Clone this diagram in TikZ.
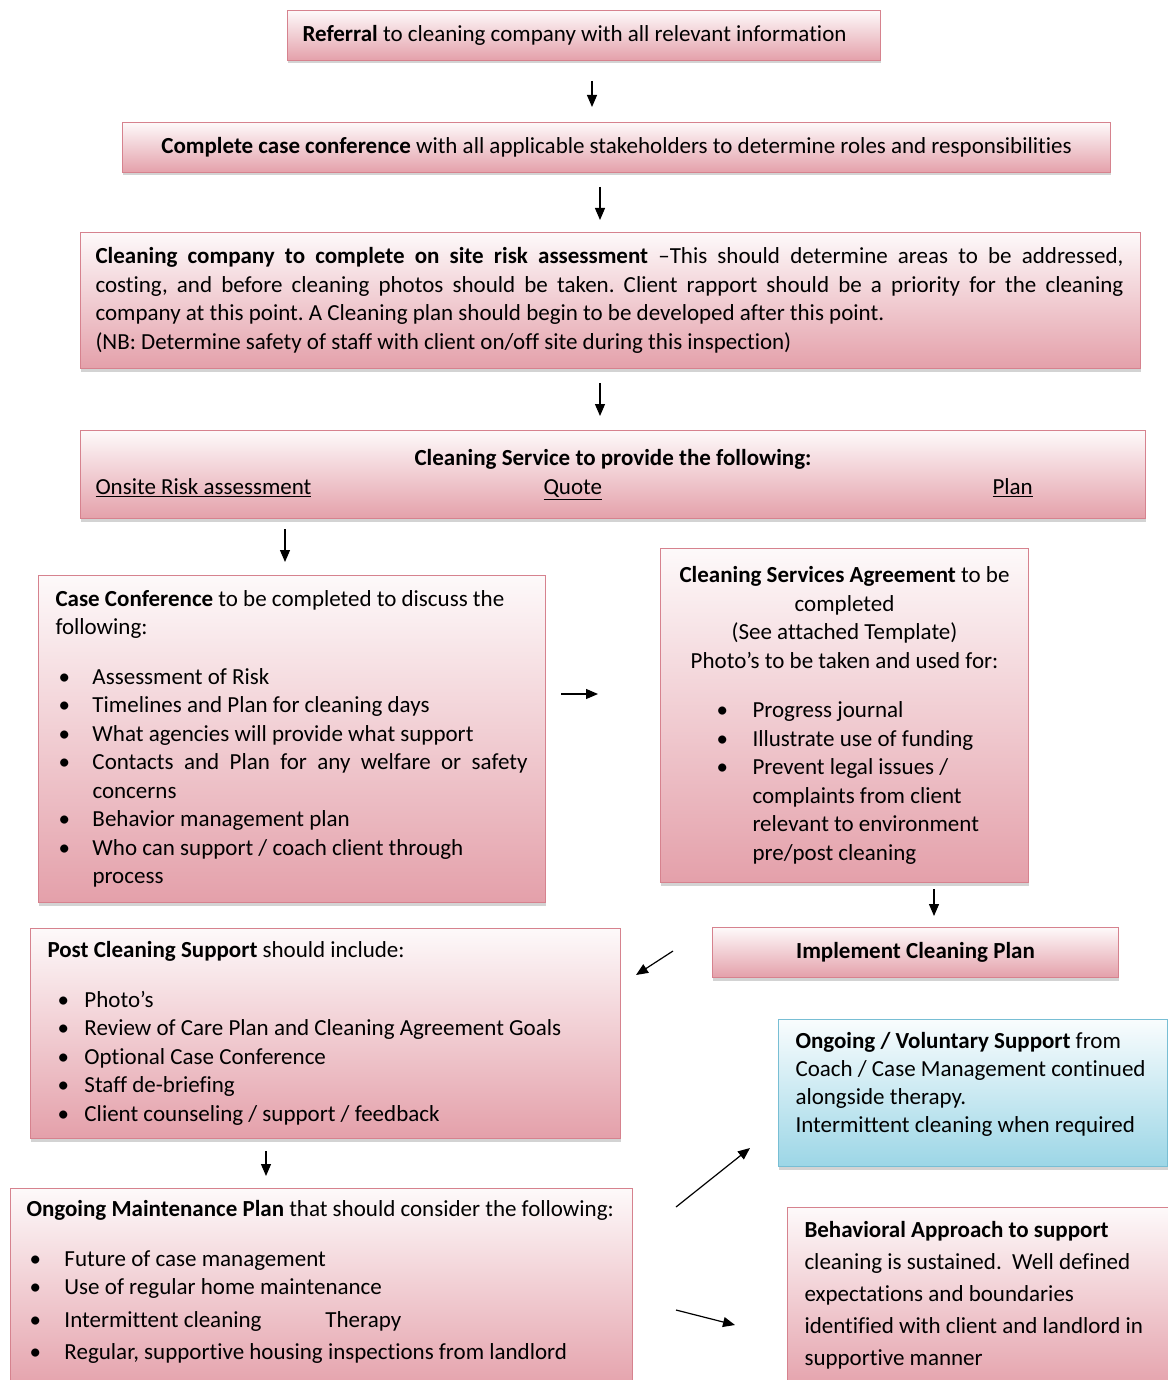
\documentclass[tikz,border=0pt]{standalone}
\usepackage{fontspec}
\setmainfont{Carlito}[Ligatures=NoCommon]
\usetikzlibrary{arrows.meta,positioning,shadows,calc}
\definecolor{flowpink}{RGB}{228,160,170}
\definecolor{flowedge}{RGB}{214,130,142}
\definecolor{flowblue}{RGB}{156,214,230}
\definecolor{flowblueedge}{RGB}{120,190,212}
% bullet: left offset, bullet width, text
\newcommand{\fbul}[3]{\hspace*{#1}\makebox[#2][l]{\textbullet}#3}

\tikzset{
  flowbox/.style={draw=flowedge, line width=1pt, top color=flowpink!6, bottom color=flowpink,
    anchor=north west, inner xsep=15pt, inner ysep=0pt, align=justify,
    drop shadow={shadow xshift=0pt, shadow yshift=-3pt, opacity=0.35},
    font=\fontsize{23}{28.5}\selectfont\frenchspacing},
  bluebox/.style={flowbox, draw=flowblueedge, top color=flowblue!6, bottom color=flowblue},
  flowarrow/.style={-{Triangle[length=12pt,width=10pt]}, line width=1.2pt},
}

\begin{document}
\begin{tikzpicture}[x=1pt, y=-1pt]
  \useasboundingbox (0,0) rectangle (1167,1380);

  %% Top chain
  \node[flowbox, minimum width=593pt, minimum height=50pt, text width=563pt] (referral) at (287,10)
    {\textbf{Referral} to cleaning company with all relevant information};
  \node[flowbox, minimum width=988pt, minimum height=50pt, text width=958pt] (conference) at (122,122)
    {\makebox[958pt]{\textbf{Complete case conference} with all applicable stakeholders to determine roles and responsibilities}};
  \node[flowbox, minimum width=1060pt, minimum height=136pt, text width=1030pt] (riskassess) at (80,232)
    {\makebox[1028pt][s]{\textbf{Cleaning company to complete on site risk assessment} –This should determine areas to be addressed,}\\
     \makebox[1028pt][s]{costing, and before cleaning photos should be taken. Client rapport should be a priority for the cleaning}\\
     company at this point. A Cleaning plan should begin to be developed after this point.\\
     (NB: Determine safety of staff with client on/off site during this inspection)};
  \node[flowbox, minimum width=1065pt, minimum height=88pt, text width=1035pt] (provide) at (80,430)
    {\makebox[1035pt]{\textbf{Cleaning Service to provide the following:}}\\
     \makebox[1035pt][l]{\makebox[448pt][l]{\underline{Onsite Risk assessment}}\makebox[449pt][l]{\underline{Quote}}\underline{Plan}}};

  %% Middle row
  \node[flowbox, minimum width=507pt, minimum height=327pt, inner xsep=17pt, text width=473pt] (caseconf) at (38,575)
    {\textbf{Case Conference} to be completed to discuss the\\
     following:\\[21pt]
     \fbul{3pt}{34pt}{Assessment of Risk}\\
     \fbul{3pt}{34pt}{Timelines and Plan for cleaning days}\\
     \fbul{3pt}{34pt}{What agencies will provide what support}\\
     \fbul{3pt}{34pt}{\makebox[435pt][s]{Contacts and Plan for any welfare or safety}}\\
     \hspace*{37pt}concerns\\
     \fbul{3pt}{34pt}{Behavior management plan}\\
     \fbul{3pt}{34pt}{Who can support / coach client through}\\
     \hspace*{37pt}process};
  \node[flowbox, minimum width=368pt, minimum height=334pt, inner xsep=16pt, text width=336pt] (agreement) at (660,548)
    {\makebox[336pt]{\textbf{Cleaning Services Agreement} to be}\\
     \makebox[336pt]{completed}\\
     \makebox[336pt]{(See attached Template)}\\
     \makebox[336pt]{Photo’s to be taken and used for:}\\[21pt]
     \fbul{40pt}{36pt}{Progress journal}\\
     \fbul{40pt}{36pt}{Illustrate use of funding}\\
     \fbul{40pt}{36pt}{Prevent legal issues /}\\
     \hspace*{76pt}complaints from client\\
     \hspace*{76pt}relevant to environment\\
     \hspace*{76pt}pre/post cleaning};
  \node[flowbox, minimum width=406pt, minimum height=50pt, text width=376pt] (implement) at (712,927)
    {\makebox[376pt]{\textbf{Implement Cleaning Plan}}};

  %% Lower left
  \node[flowbox, minimum width=590pt, minimum height=210pt, inner xsep=17pt, text width=556pt] (postclean) at (30,928)
    {\textbf{Post Cleaning Support} should include:\\[21pt]
     \fbul{10pt}{27pt}{Photo’s}\\
     \fbul{10pt}{27pt}{Review of Care Plan and Cleaning Agreement Goals}\\
     \fbul{10pt}{27pt}{Optional Case Conference}\\
     \fbul{10pt}{27pt}{Staff de-briefing}\\
     \fbul{10pt}{27pt}{Client counseling / support / feedback}};
  \node[flowbox, minimum width=622pt, minimum height=204pt, inner xsep=16pt, text width=590pt] (maintain) at (10,1188)
    {\textbf{Ongoing Maintenance Plan} that should consider the following:\\[21pt]
     \fbul{3pt}{35pt}{Future of case management}\\
     \fbul{3pt}{35pt}{Use of regular home maintenance}\\[4pt]
     \fbul{3pt}{35pt}{\makebox[261pt][l]{Intermittent cleaning}Therapy}\\[4pt]
     \fbul{3pt}{35pt}{Regular, supportive housing inspections from landlord}\rule[-21pt]{0pt}{1pt}};

  %% Lower right
  \node[bluebox, minimum width=389pt, minimum height=147pt, inner xsep=17pt, text width=355pt,
        font=\fontsize{23}{28}\selectfont] (voluntary) at (778,1019)
    {\textbf{Ongoing / Voluntary Support} from\\
     Coach / Case Management continued\\
     alongside therapy.\\
     Intermittent cleaning when required\rule[-22pt]{0pt}{1pt}};
  \node[flowbox, minimum width=385pt, minimum height=185pt, inner xsep=17pt, text width=351pt,
        font=\fontsize{23}{32}\selectfont] (behaviour) at (787,1207)
    {\textbf{Behavioral Approach to support}\\
     cleaning is sustained.\ \ Well defined\\
     expectations and boundaries\\
     identified with client and landlord in\\
     supportive manner\rule[-13pt]{0pt}{1pt}};

  %% Free arrow ends
  \coordinate (postin) at (636,975);
  \coordinate (postfrom) at (673,951);
  \coordinate (volfrom) at (676,1207);
  \coordinate (volin) at (750,1148);
  \coordinate (behfrom) at (676,1310);
  \coordinate (behin) at (735,1325);

  %% Arrows
  \draw[flowarrow, shorten <=20pt, shorten >=15pt] (referral.south -| 592,0) -- (conference.north -| 592,0);
  \draw[flowarrow, shorten <=14pt, shorten >=12pt] (conference.south -| 600,0) -- (riskassess.north -| 600,0);
  \draw[flowarrow, shorten <=14pt, shorten >=14pt] (riskassess.south -| 600,0) -- (provide.north -| 600,0);
  \draw[flowarrow, shorten <=10pt, shorten >=13pt] (provide.south -| 285,0) -- (caseconf.north -| 285,0);
  \draw[flowarrow, shorten <=15pt, shorten >=62pt] (caseconf.east |- 0,694) -- (agreement.west |- 0,694);
  \draw[flowarrow, shorten <=6pt, shorten >=11pt] (agreement.south -| 934,0) -- (implement.north -| 934,0);
  \draw[flowarrow] (postfrom) -- (postin);
  \draw[flowarrow, shorten <=12pt, shorten >=12pt] (postclean.south -| 266,0) -- (maintain.north -| 266,0);
  \draw[flowarrow] (volfrom) -- (volin);
  \draw[flowarrow] (behfrom) -- (behin);
\end{tikzpicture}
\end{document}
